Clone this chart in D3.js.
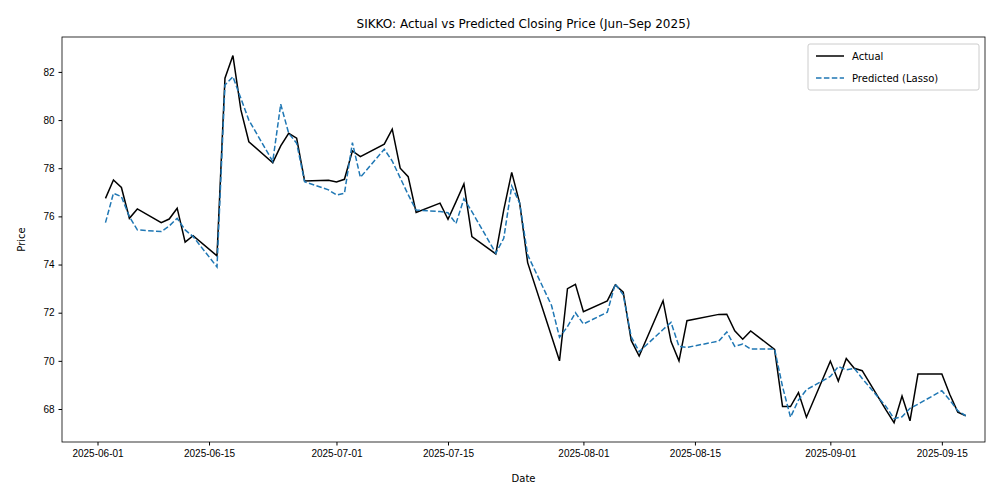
<!DOCTYPE html>
<html lang="en">
<head>
<meta charset="UTF-8">
<title>SIKKO: Actual vs Predicted</title>
<style>
  body { margin: 0; background: #fff; }
  svg { font-family: "DejaVu Sans", sans-serif; }
</style>
</head>
<body>
<div id="chart"></div>
<script src="https://d3js.org/d3.v7.min.js"></script>
<script>
// trading days and prices
const dates = [
  "2025-06-02","2025-06-03","2025-06-04","2025-06-05","2025-06-06",
  "2025-06-09","2025-06-10","2025-06-11","2025-06-12","2025-06-13",
  "2025-06-16","2025-06-17","2025-06-18","2025-06-19","2025-06-20",
  "2025-06-23","2025-06-24","2025-06-25","2025-06-26","2025-06-27",
  "2025-06-30","2025-07-01","2025-07-02","2025-07-03","2025-07-04",
  "2025-07-07","2025-07-08","2025-07-09","2025-07-10","2025-07-11",
  "2025-07-14","2025-07-15","2025-07-16","2025-07-17","2025-07-18",
  "2025-07-21","2025-07-22","2025-07-23","2025-07-24","2025-07-25",
  "2025-07-28","2025-07-29","2025-07-30","2025-07-31","2025-08-01",
  "2025-08-04","2025-08-05","2025-08-06","2025-08-07","2025-08-08",
  "2025-08-11","2025-08-12","2025-08-13","2025-08-14",
  "2025-08-18","2025-08-19","2025-08-20","2025-08-21","2025-08-22",
  "2025-08-25","2025-08-26","2025-08-27","2025-08-28","2025-08-29",
  "2025-09-01","2025-09-02","2025-09-03","2025-09-04","2025-09-05",
  "2025-09-08","2025-09-09","2025-09-10","2025-09-11","2025-09-12",
  "2025-09-15","2025-09-16","2025-09-17","2025-09-18"
];
const actual = [
  76.75, 77.51, 77.2, 75.92, 76.31,
  75.74, 75.89, 76.34, 74.93, 75.2,
  74.36, 81.74, 82.68, 80.42, 79.1,
  78.23, 78.93, 79.45, 79.25, 77.47,
  77.5, 77.43, 77.54, 78.72, 78.48,
  79.0, 79.62, 78.0, 77.65, 76.16,
  76.55, 75.88, 76.6, 77.35, 75.16,
  74.44, 76.27, 77.83, 76.55, 74.08,
  71.02, 70.0, 73.0, 73.18, 72.04,
  72.49, 73.15, 72.85, 70.85, 70.2,
  72.5, 70.8, 70.0, 71.67,
  71.93, 71.94, 71.25, 70.9, 71.24,
  70.48, 68.1, 68.1, 68.68, 67.66,
  69.99, 69.16, 70.1, 69.69, 69.59,
  67.95, 67.43, 68.54, 67.51, 69.45,
  69.45, 68.6, 67.87, 67.72
];
const predicted = [
  75.74, 76.96, 76.82, 75.99, 75.44,
  75.37, 75.6, 75.92, 75.44, 75.16,
  73.9, 81.46, 81.8, 80.9, 80.0,
  78.28, 80.66, 79.45, 79.04, 77.44,
  77.1, 76.89, 76.96, 79.06, 77.62,
  78.79, 78.3, 77.6, 76.9, 76.26,
  76.2, 76.15, 75.7, 76.73, 76.2,
  74.47, 75.09, 77.26, 76.55, 74.4,
  72.3, 70.98, 71.42, 72.0, 71.53,
  72.02, 73.2, 72.74, 71.0, 70.38,
  71.3, 71.6, 70.6, 70.56,
  70.82, 71.2, 70.6, 70.7, 70.49,
  70.49, 68.93, 67.66, 68.37, 68.8,
  69.35, 69.76, 69.63, 69.69, 69.27,
  68.1, 67.6, 67.68, 68.03, 68.2,
  68.76, 68.37, 67.93, 67.72
];
const xTicks = ["2025-06-01","2025-06-15","2025-07-01","2025-07-15","2025-08-01","2025-08-15","2025-09-01","2025-09-15"];
const yTicks = [68, 70, 72, 74, 76, 78, 80, 82];

const width = 1000, height = 500;
const margin = { top: 37, right: 15, bottom: 58, left: 62 };
const parse = d3.utcParse("%Y-%m-%d");
const rows = dates.map((d, i) => ({ date: parse(d), actual: actual[i], predicted: predicted[i] }));

const svg = d3.select("#chart").append("svg")
  .attr("width", width)
  .attr("height", height);

const x = d3.scaleUtc()
  .domain([d3.utcHour.offset(parse("2025-05-27"), 13), d3.utcHour.offset(parse("2025-09-20"), 10)])
  .range([margin.left, width - margin.right]);
const y = d3.scaleLinear()
  .domain([66.63, 83.45])
  .range([height - margin.bottom, margin.top]);

const xAxis = svg.append("g")
  .attr("transform", `translate(0,${height - margin.bottom})`)
  .call(d3.axisBottom(x).tickValues(xTicks.map(parse)).tickFormat(d3.utcFormat("%Y-%m-%d")).tickSizeOuter(0).tickSize(3.5).tickPadding(4));
const yAxis = svg.append("g")
  .attr("transform", `translate(${margin.left},0)`)
  .call(d3.axisLeft(y).tickValues(yTicks).tickSizeOuter(0).tickSize(3.5).tickPadding(4));
[xAxis, yAxis].forEach(g => {
  g.selectAll("text").attr("font-size", 10).attr("fill", "#000");
  g.select(".domain").remove();
});

// frame
svg.append("rect")
  .attr("x", margin.left).attr("y", margin.top)
  .attr("width", width - margin.left - margin.right)
  .attr("height", height - margin.top - margin.bottom)
  .attr("fill", "none").attr("stroke", "#000").attr("stroke-width", 0.8);

const line = key => d3.line().x(d => x(d.date)).y(d => y(d[key]));

svg.append("path").datum(rows)
  .attr("d", line("actual"))
  .attr("fill", "none").attr("stroke", "#000").attr("stroke-width", 1.5);
svg.append("path").datum(rows)
  .attr("d", line("predicted"))
  .attr("fill", "none").attr("stroke", "#1f77b4").attr("stroke-width", 1.5)
  .attr("stroke-dasharray", "5.5,2.4");

svg.append("text")
  .attr("x", (margin.left + width - margin.right) / 2).attr("y", 28)
  .attr("text-anchor", "middle").attr("font-size", 12)
  .text("SIKKO: Actual vs Predicted Closing Price (Jun\u2013Sep 2025)");
svg.append("text")
  .attr("x", (margin.left + width - margin.right) / 2).attr("y", 482)
  .attr("text-anchor", "middle").attr("font-size", 10).text("Date");
svg.append("text")
  .attr("transform", `translate(25,${(margin.top + height - margin.bottom) / 2}) rotate(-90)`)
  .attr("text-anchor", "middle").attr("font-size", 10).text("Price");

// legend
const lg = svg.append("g").attr("transform", "translate(808,44)");
lg.append("rect").attr("width", 171).attr("height", 46).attr("rx", 2)
  .attr("fill", "#fff").attr("fill-opacity", 0.8).attr("stroke", "#ccc");
const items = [
  { label: "Actual", color: "#000", dash: null },
  { label: "Predicted (Lasso)", color: "#1f77b4", dash: "5.5,2.4" }
];
items.forEach((it, i) => {
  const yy = 12 + i * 22;
  lg.append("line").attr("x1", 8).attr("x2", 36).attr("y1", yy).attr("y2", yy)
    .attr("stroke", it.color).attr("stroke-width", 1.5).attr("stroke-dasharray", it.dash);
  lg.append("text").attr("x", 44).attr("y", yy + 4).attr("font-size", 10).text(it.label);
});
</script>
</body>
</html>
